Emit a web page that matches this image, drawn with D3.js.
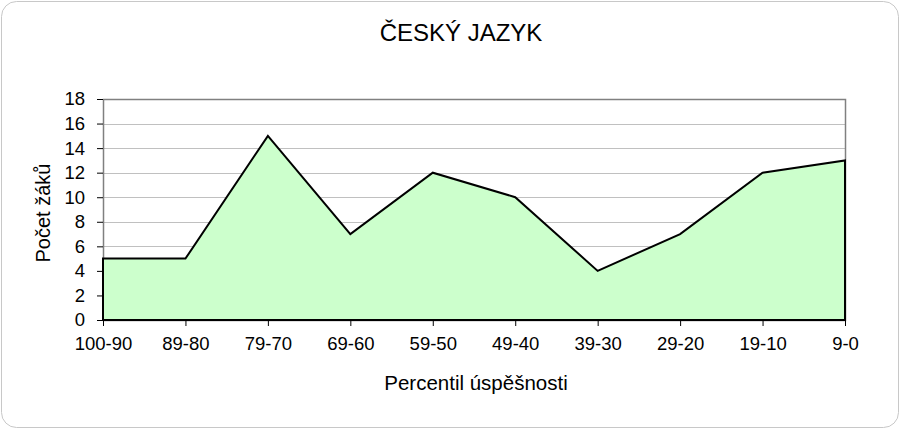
<!DOCTYPE html>
<html><head><meta charset="utf-8">
<script src="https://cdn.jsdelivr.net/npm/d3@7"></script>
<style>body{margin:0;background:#fff}svg{display:block}text{font-family:"Liberation Sans",Arial,sans-serif}</style>
</head><body>
<svg id="c" width="901" height="430"></svg>
<script>
const categories = ["100-90","89-80","79-70","69-60","59-50","49-40","39-30","29-20","19-10","9-0"];
const values = [5,5,15,7,12,10,4,7,12,13];
const yTicks = [0,2,4,6,8,10,12,14,16,18];
const title = "ČESKÝ JAZYK";
const xTitle = "Percentil úspěšnosti";
const yTitle = "Počet žáků";

const svg = d3.select("#c");
svg.append("rect").attr("x",1.5).attr("y",1.5).attr("width",897).attr("height",426)
  .attr("rx",15).attr("ry",15).attr("fill","#fff").attr("stroke","#c8c8c8").attr("stroke-width",1);

const L=103, R=845, T=99, B=320;
const x = d3.scalePoint().domain(categories).range([L,R]).padding(0);
const y = d3.scaleLinear().domain([0,18]).range([B,T]);

// gridlines
svg.append("g").selectAll("line").data(yTicks.filter(d=>d>0)).join("line")
  .attr("x1",L).attr("x2",R).attr("y1",d=>Math.round(y(d))+0.5).attr("y2",d=>Math.round(y(d))+0.5)
  .attr("stroke","#c0c0c0").attr("stroke-width",1);
// plot border
svg.append("rect").attr("x",L+0.5).attr("y",Math.round(T)+0.5).attr("width",R-L).attr("height",B-T)
  .attr("fill","none").attr("stroke","#808080").attr("stroke-width",1.5);

// area
const area = d3.area().x((d,i)=>x(categories[i])).y0(y(0)).y1(d=>y(d));
const pts = values.map((v,i)=>[x(categories[i]),y(v)]);
const poly = [[x(categories[0]),y(0)],...pts,[x(categories[categories.length-1]),y(0)]];
svg.append("path").datum(values).attr("d",area).attr("fill","#ccffcc");
svg.append("path").attr("d","M"+poly.map(p=>p.join(",")).join("L")+"Z")
  .attr("fill","none").attr("stroke","#000").attr("stroke-width",2).attr("stroke-linejoin","miter");

// axes
const yAxis = d3.axisLeft(y).tickValues(yTicks).tickSize(6).tickPadding(12).tickFormat(d3.format("d"));
const gy = svg.append("g").attr("transform",`translate(${L},0)`).call(yAxis);
gy.select(".domain").remove();
gy.selectAll("line").attr("stroke","#000");
gy.selectAll("text").attr("font-size",18.5).attr("fill","#000");

const xAxis = d3.axisBottom(x).tickSize(6).tickPadding(11);
const gx = svg.append("g").attr("transform",`translate(0,${B})`).call(xAxis);
gx.select(".domain").attr("stroke","#000").attr("stroke-width",2).attr("d",`M${L},0H${R}`);
gx.selectAll("line").attr("stroke","#000");
gx.selectAll("text").attr("font-size",18.5).attr("fill","#000");

svg.append("text").attr("x",461).attr("y",41).attr("text-anchor","middle").attr("font-size",24).text(title);
svg.append("text").attr("x",476).attr("y",390).attr("text-anchor","middle").attr("font-size",20.5).text(xTitle);
svg.append("text").attr("transform","translate(50,213) rotate(-90)").attr("text-anchor","middle").attr("font-size",20).text(yTitle);
</script>
</body></html>
